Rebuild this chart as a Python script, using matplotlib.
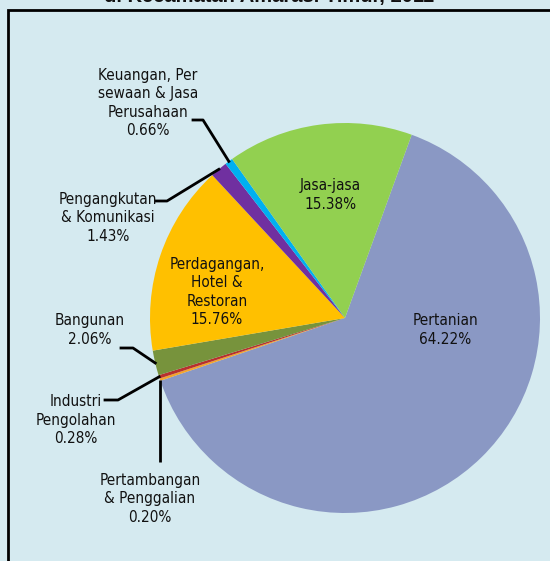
import matplotlib.pyplot as plt
from matplotlib.patches import Rectangle
import numpy as np

# data
sectors = ['Pertanian', 'Pertambangan\n& Penggalian', 'Industri\nPengolahan', 'Bangunan',
           'Perdagangan,\nHotel &\nRestoran', 'Pengangkutan\n& Komunikasi',
           'Keuangan, Per\nsewaan & Jasa\nPerusahaan', 'Jasa-jasa']
shares = [64.22, 0.20, 0.28, 2.06, 15.76, 1.43, 0.66, 15.38]
colors = ['#8A98C4', '#F4A42C', '#B8302E', '#77933C', '#FFC000', '#7030A0', '#00B0F0', '#92D050']

W, H = 550, 561
CX, CY, R = 345, 318, 195   # pie centre / radius in pixels (from top)

def px(x, y):
    # pixel position -> data units of the pie axes
    return (x - CX) / R, (CY - y) / R

fig = plt.figure(figsize=(W / 100, H / 100), dpi=100, facecolor='#D5EAF0')
ax = fig.add_axes([0, 0, 1, 1])
ax.set_facecolor('#D5EAF0')

wedges, _ = ax.pie(shares, colors=colors, startangle=70, counterclock=False,
                   radius=1, wedgeprops=dict(linewidth=0))
ax.set_xlim(-CX / R, (W - CX) / R)
ax.set_ylim((CY - H) / R, CY / R)
ax.set_aspect('equal', adjustable='box')
ax.axis('off')

# frame + cut-off title
fig.patches.append(Rectangle((8 / W, -0.1), 1.2, (H - 10) / H + 0.1, transform=fig.transFigure,
                             fill=False, edgecolor='black', linewidth=2))
fig.text(0.49, 1 - 2 / H, 'di Kecamatan Amarasi Timur, 2011', ha='center', va='baseline',
         fontsize=14.5, fontweight='bold', family='Liberation Sans', color='#111111')

font = dict(family='DejaVu Sans', fontsize=11, fontstretch='condensed',
            ha='center', va='center', linespacing=1.3, color='#111111')

# label centres (px), elbow of leader line (px) or None
label_pos = {
    0: ((445, 330), None),
    1: ((150, 499), 'down'),
    2: ((76, 420), [(105, 400), (118, 400)]),
    3: ((90, 330), [(121, 348), (133, 348)]),
    4: ((217, 292), None),
    5: ((108, 218), [(156, 201), (167, 201)]),
    6: ((148, 103), [(193, 120), (203, 120)]),
    7: ((330, 195), None),
}

for i, w in enumerate(wedges):
    (lx, ly), lead = label_pos[i]
    ax.text(*px(lx, ly), f'{sectors[i]}\n{shares[i]:.2f}%', **font)
    mid = np.deg2rad((w.theta1 + w.theta2) / 2)
    ex, ey = np.cos(mid), np.sin(mid)
    if lead == 'down':
        ax.plot([ex, ex], [ey, px(0, 462)[1]], color='black', lw=2, solid_capstyle='butt')
    elif lead:
        pts = [px(*p) for p in lead] + [(ex, ey)]
        ax.plot([p[0] for p in pts], [p[1] for p in pts], color='black', lw=2)

fig.savefig('out.png', dpi=100, facecolor=fig.get_facecolor())
